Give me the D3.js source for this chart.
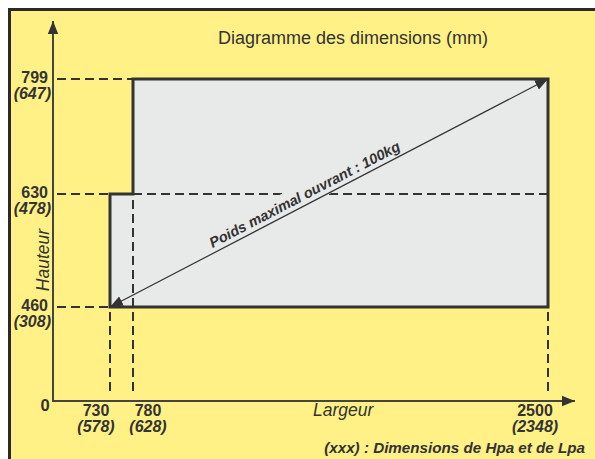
<!DOCTYPE html>
<html>
<head>
<meta charset="utf-8">
<script src="https://cdn.jsdelivr.net/npm/d3@7"></script>
<style>
  html, body { margin: 0; padding: 0; background: #fff; }
  svg { display: block; font-family: "Liberation Sans", Arial, sans-serif; }
</style>
</head>
<body>
<svg id="chart" width="595" height="459"></svg>
<script>
'use strict';

// values (mm)
var widthTicks = [730, 780, 2500];
var widthPa = [578, 628, 2348];
var heightTicks = [460, 630, 799];
var heightPa = [308, 478, 647];
// outline of the allowed zone: [largeur, hauteur]
var zone = [[730, 460], [730, 630], [780, 630], [780, 799], [2500, 799], [2500, 460]];
var maxWeight = 'Poids maximal ouvrant : 100kg';

var W = 595, H = 459,
  ink = '#333333',
  yellow = '#fff185',
  grey = '#e8e9e9';

// the drawing is schematic, so the scales are piecewise
var x = d3.scaleLinear().domain([0].concat(widthTicks)).range([53, 110, 133, 548]);
var y = d3.scaleLinear().domain([0].concat(heightTicks)).range([401, 307, 194, 79]);
var xLabelShift = [-14, 15, -13];

var svg = d3.select('#chart');

var defs = svg.append('defs');
function marker(id, size) {
  defs.append('marker')
    .attr('id', id)
    .attr('viewBox', '0 0 10 10')
    .attr('refX', 10).attr('refY', 5)
    .attr('markerWidth', size).attr('markerHeight', size)
    .attr('markerUnits', 'userSpaceOnUse')
    .attr('orient', 'auto-start-reverse')
    .append('path')
    .attr('d', 'M0,1 L10,5 L0,9 Z')
    .attr('fill', ink);
}
marker('axisHead', 13);
marker('diagHead', 13);

// frame
svg.append('rect')
  .attr('x', 9.5).attr('y', 9.5)
  .attr('width', W + 20).attr('height', H + 20)
  .attr('fill', yellow)
  .attr('stroke', '#2a2a2a')
  .attr('stroke-width', 3);

// title
svg.append('text')
  .attr('x', 353).attr('y', 44)
  .attr('text-anchor', 'middle')
  .attr('font-size', 18)
  .attr('fill', ink)
  .text('Diagramme des dimensions (mm)');

// zone
var zoneLine = d3.line().x(function(d) { return x(d[0]); }).y(function(d) { return y(d[1]); });
svg.append('path')
  .attr('d', zoneLine(zone) + 'Z')
  .attr('fill', grey);

// dashed guides
var dash = svg.append('g')
  .attr('stroke', ink)
  .attr('stroke-width', 2)
  .attr('stroke-dasharray', '9,5')
  .attr('fill', 'none');

// left side of the zone for each height level
function leftEdge(h) {
  return d3.min(zone.filter(function(p) { return p[1] === h; }), function(p) { return p[0]; });
}
function bottomEdge(w) {
  return d3.min(zone.filter(function(p) { return p[0] === w; }), function(p) { return p[1]; });
}

heightTicks.forEach(function(h) {
  dash.append('line')
    .attr('x1', x(0) + 4).attr('x2', x(leftEdge(h)))
    .attr('y1', y(h)).attr('y2', y(h));
});
widthTicks.forEach(function(w) {
  dash.append('line')
    .attr('x1', x(w)).attr('x2', x(w))
    .attr('y1', y(0) - 10).attr('y2', y(bottomEdge(w)));
});
// inner step line
dash.append('line')
  .attr('x1', x(780)).attr('x2', x(2500))
  .attr('y1', y(630)).attr('y2', y(630));

// zone outline on top of the guides
svg.append('path')
  .attr('d', zoneLine(zone) + 'Z')
  .attr('fill', 'none')
  .attr('stroke', ink)
  .attr('stroke-width', 3);

// axes
svg.append('line')
  .attr('x1', x(0)).attr('y1', y(0))
  .attr('x2', x(0)).attr('y2', 21)
  .attr('stroke', '#444').attr('stroke-width', 2)
  .attr('marker-end', 'url(#axisHead)');
svg.append('line')
  .attr('x1', x(0) - 1).attr('y1', y(0))
  .attr('x2', 575).attr('y2', y(0))
  .attr('stroke', '#444').attr('stroke-width', 2)
  .attr('marker-end', 'url(#axisHead)');

// diagonal label, on a grey patch that hides the dashed line under it
var p0 = [x(730), y(460)], p1 = [x(2500), y(799)];
var ang = Math.atan2(p1[1] - p0[1], p1[0] - p0[0]) * 180 / Math.PI;
var mid = [p0[0] + (p1[0] - p0[0]) * 0.455, p0[1] + (p1[1] - p0[1]) * 0.455];
var lab = svg.append('g')
  .attr('transform', 'translate(' + mid[0] + ',' + mid[1] + ') rotate(' + ang + ')');
var patch = lab.append('rect').attr('fill', grey);
var labText = lab.append('text')
  .attr('y', -5)
  .attr('text-anchor', 'middle')
  .attr('font-size', 14.5)
  .attr('font-weight', 'bold')
  .attr('font-style', 'italic')
  .attr('fill', ink)
  .text(maxWeight);
var bb = labText.node().getBBox();
patch.attr('x', bb.x - 2).attr('y', bb.y - 3)
  .attr('width', bb.width + 4).attr('height', bb.height + 6);

svg.append('line')
  .attr('x1', p0[0]).attr('y1', p0[1])
  .attr('x2', p1[0]).attr('y2', p1[1])
  .attr('stroke', ink).attr('stroke-width', 1.2)
  .attr('marker-start', 'url(#diagHead)')
  .attr('marker-end', 'url(#diagHead)');

// y labels
var yl = svg.append('g')
  .attr('font-weight', 'bold')
  .attr('font-size', 16)
  .attr('fill', ink);
heightTicks.forEach(function(h, i) {
  yl.append('text').attr('x', 48).attr('y', y(h) + 4).attr('text-anchor', 'end').text(h);
  yl.append('text').attr('x', 51).attr('y', y(h) + 20).attr('text-anchor', 'end')
    .attr('font-style', 'italic').text('(' + heightPa[i] + ')');
});
yl.append('text').attr('x', 45).attr('y', y(0) + 10).attr('text-anchor', 'middle')
  .attr('font-size', 16.5).text('0');

// x labels
widthTicks.forEach(function(w, i) {
  var cx = x(w) + xLabelShift[i];
  yl.append('text').attr('x', cx).attr('y', y(0) + 15).attr('text-anchor', 'middle').text(w);
  yl.append('text').attr('x', cx).attr('y', y(0) + 31).attr('text-anchor', 'middle')
    .attr('font-style', 'italic').text('(' + widthPa[i] + ')');
});

// axis titles
svg.append('text')
  .attr('x', 313).attr('y', 416)
  .attr('font-size', 17.5).attr('font-style', 'italic')
  .attr('fill', ink)
  .text('Largeur');
svg.append('text')
  .attr('transform', 'translate(49,260) rotate(-90)')
  .attr('text-anchor', 'middle')
  .attr('font-size', 17.5).attr('font-style', 'italic')
  .attr('fill', ink)
  .text('Hauteur');

// footnote
svg.append('text')
  .attr('x', 585).attr('y', 453)
  .attr('text-anchor', 'end')
  .attr('font-size', 15.2).attr('font-weight', 'bold').attr('font-style', 'italic')
  .attr('fill', ink)
  .text('(xxx) : Dimensions de Hpa et de Lpa');
</script>
</body>
</html>
